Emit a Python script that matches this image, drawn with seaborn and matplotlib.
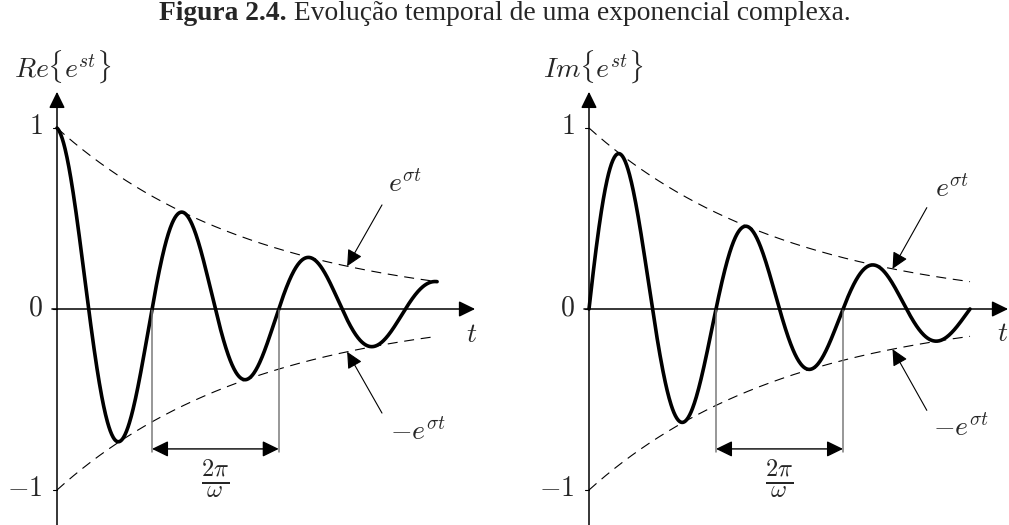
import numpy as np
import pandas as pd
import matplotlib
matplotlib.use("Agg")
import matplotlib.pyplot as plt
import seaborn as sns

# Signal parameters: s = sigma + j*omega
SIGMA = -0.63          # decay rate of the envelope
OMEGA = 2 * np.pi      # one oscillation per unit of t
T_END = 3.0            # plotted time span
Y_TICKS = [1, 0, -1]
Y_TICK_LABELS = ["$1$", "$0$", "$-1$"]
PANEL_LABELS = [r"$Re\{e^{st}\}$", r"$Im\{e^{st}\}$"]
PERIOD_MARKS = [[0.75, 1.75], [1.0, 2.0]]   # upward zero crossings one period apart

sns.set_theme(style="white")
plt.rcParams["mathtext.fontset"] = "cm"
plt.rcParams["font.family"] = ["Liberation Serif", "DejaVu Serif"]

W, H = 1009, 525
fig = plt.figure(figsize=(W / 100, H / 100), dpi=100)
fig.patch.set_facecolor("white")


def make_axes(px0, px1, origin_px, xscale, py0=40, py1=525, zero_py=309, yscale=181):
    ax = fig.add_axes([px0 / W, 1 - py1 / H, (px1 - px0) / W, (py1 - py0) / H])
    ax.set_xlim((px0 - origin_px) / xscale, (px1 - origin_px) / xscale)
    ax.set_ylim((zero_py - py1) / yscale, (zero_py - py0) / yscale)
    ax.set_axis_off()
    return ax


t = np.linspace(0, T_END, 800)
env = np.exp(SIGMA * t)
df = pd.DataFrame({
    "t": t,
    "env": env,
    "neg_env": -env,
    "re": env * np.cos(OMEGA * t),
    "im": env * np.sin(OMEGA * t),
})

axes = [make_axes(0, 504, 57, 126.7), make_axes(504, 1009, 589, 127.0)]
series = ["re", "im"]
# annotation layout per panel: (arrow head t, arrow tail t, text t, text |y|, tail |y|)
notes = [(2.29, 2.565, 2.75, 0.685, 0.575), (2.39, 2.66, 2.86, 0.66, 0.56)]
t_label = [(3.275, -0.144), (3.26, -0.14)]
lower_text_t = [2.85, 2.93]
label_x = [0.047, 0.03]

arrow_kw = dict(arrowstyle="-|>,head_length=0.45,head_width=0.22", color="black",
                shrinkA=0, shrinkB=0, mutation_scale=22)

for i, ax in enumerate(axes):
    ymin = ax.get_ylim()[0]
    # axes with arrowheads
    ax.annotate("", xy=(3.3, 0), xytext=(-0.04, 0),
                arrowprops=dict(lw=1.1, **arrow_kw))
    ax.annotate("", xy=(0, 1.2), xytext=(0, ymin),
                arrowprops=dict(lw=1.1, **arrow_kw))
    for v, lab in zip(Y_TICKS, Y_TICK_LABELS):
        ax.plot([-0.035, 0], [v, v], color="black", lw=0.8)
        ax.text(-0.115, v, lab, ha="right", va="center", fontsize=20)
    ax.text(label_x[i], 1.335, PANEL_LABELS[i], ha="center", va="center", fontsize=20)
    ax.text(*t_label[i], "$t$", ha="center", va="center", fontsize=20)

    # envelopes and signal
    sns.lineplot(data=df, x="t", y="env", ax=ax, color="black", lw=0.8,
                 linestyle=(0, (9, 6)))
    sns.lineplot(data=df, x="t", y="neg_env", ax=ax, color="black", lw=0.8,
                 linestyle=(0, (9, 6)))
    sns.lineplot(data=df, x="t", y=series[i], ax=ax, color="black", lw=2.6)

    # period marker
    a, b = PERIOD_MARKS[i]
    for m in (a, b):
        ax.plot([m, m], [0, -0.79], color="#7a7a7a", lw=1.1)
    ax.annotate("", xy=(b, -0.773), xytext=(a, -0.773),
                arrowprops=dict(arrowstyle="<|-|>,head_length=0.45,head_width=0.22",
                                color="black", lw=1.0, shrinkA=0, shrinkB=0,
                                mutation_scale=22))
    ax.text((a + b) / 2, -0.94, r"$\frac{2\pi}{\omega}$", ha="center", va="center",
            fontsize=25)

    # envelope callouts
    head_t, tail_t, text_t, text_y, tail_y = notes[i]
    up = np.exp(SIGMA * head_t)
    ax.annotate("", xy=(head_t, up), xytext=(tail_t, tail_y),
                arrowprops=dict(lw=0.8, **arrow_kw))
    ax.text(text_t, text_y, r"$e^{\sigma t}$", ha="center", va="center", fontsize=20)
    ax.annotate("", xy=(head_t, -up), xytext=(tail_t, -tail_y),
                arrowprops=dict(lw=0.8, **arrow_kw))
    ax.text(lower_text_t[i], -text_y, r"$-e^{\sigma t}$", ha="center", va="center",
            fontsize=20)
    ax.set_xlabel("")
    ax.set_ylabel("")

# caption: bold figure number followed by regular text, centred as a whole
fig.canvas.draw()
r = fig.canvas.get_renderer()
bold = fig.text(0, 0, "Figura 2.4.", fontsize=19.8, fontweight="bold",
                family="Liberation Serif")
rest = fig.text(0, 0, " Evolução temporal de uma exponencial complexa.", fontsize=19.8,
                family="Liberation Serif")
wb = bold.get_window_extent(r).width
wr = rest.get_window_extent(r).width
x0 = (505 - (wb + wr) / 2) / W
yc = 1 - 13 / H
bold.set_position((x0, yc))
bold.set_va("center")
rest.set_position((x0 + wb / W, yc))
rest.set_va("center")

fig.savefig("out.png", dpi=100, facecolor="white")
